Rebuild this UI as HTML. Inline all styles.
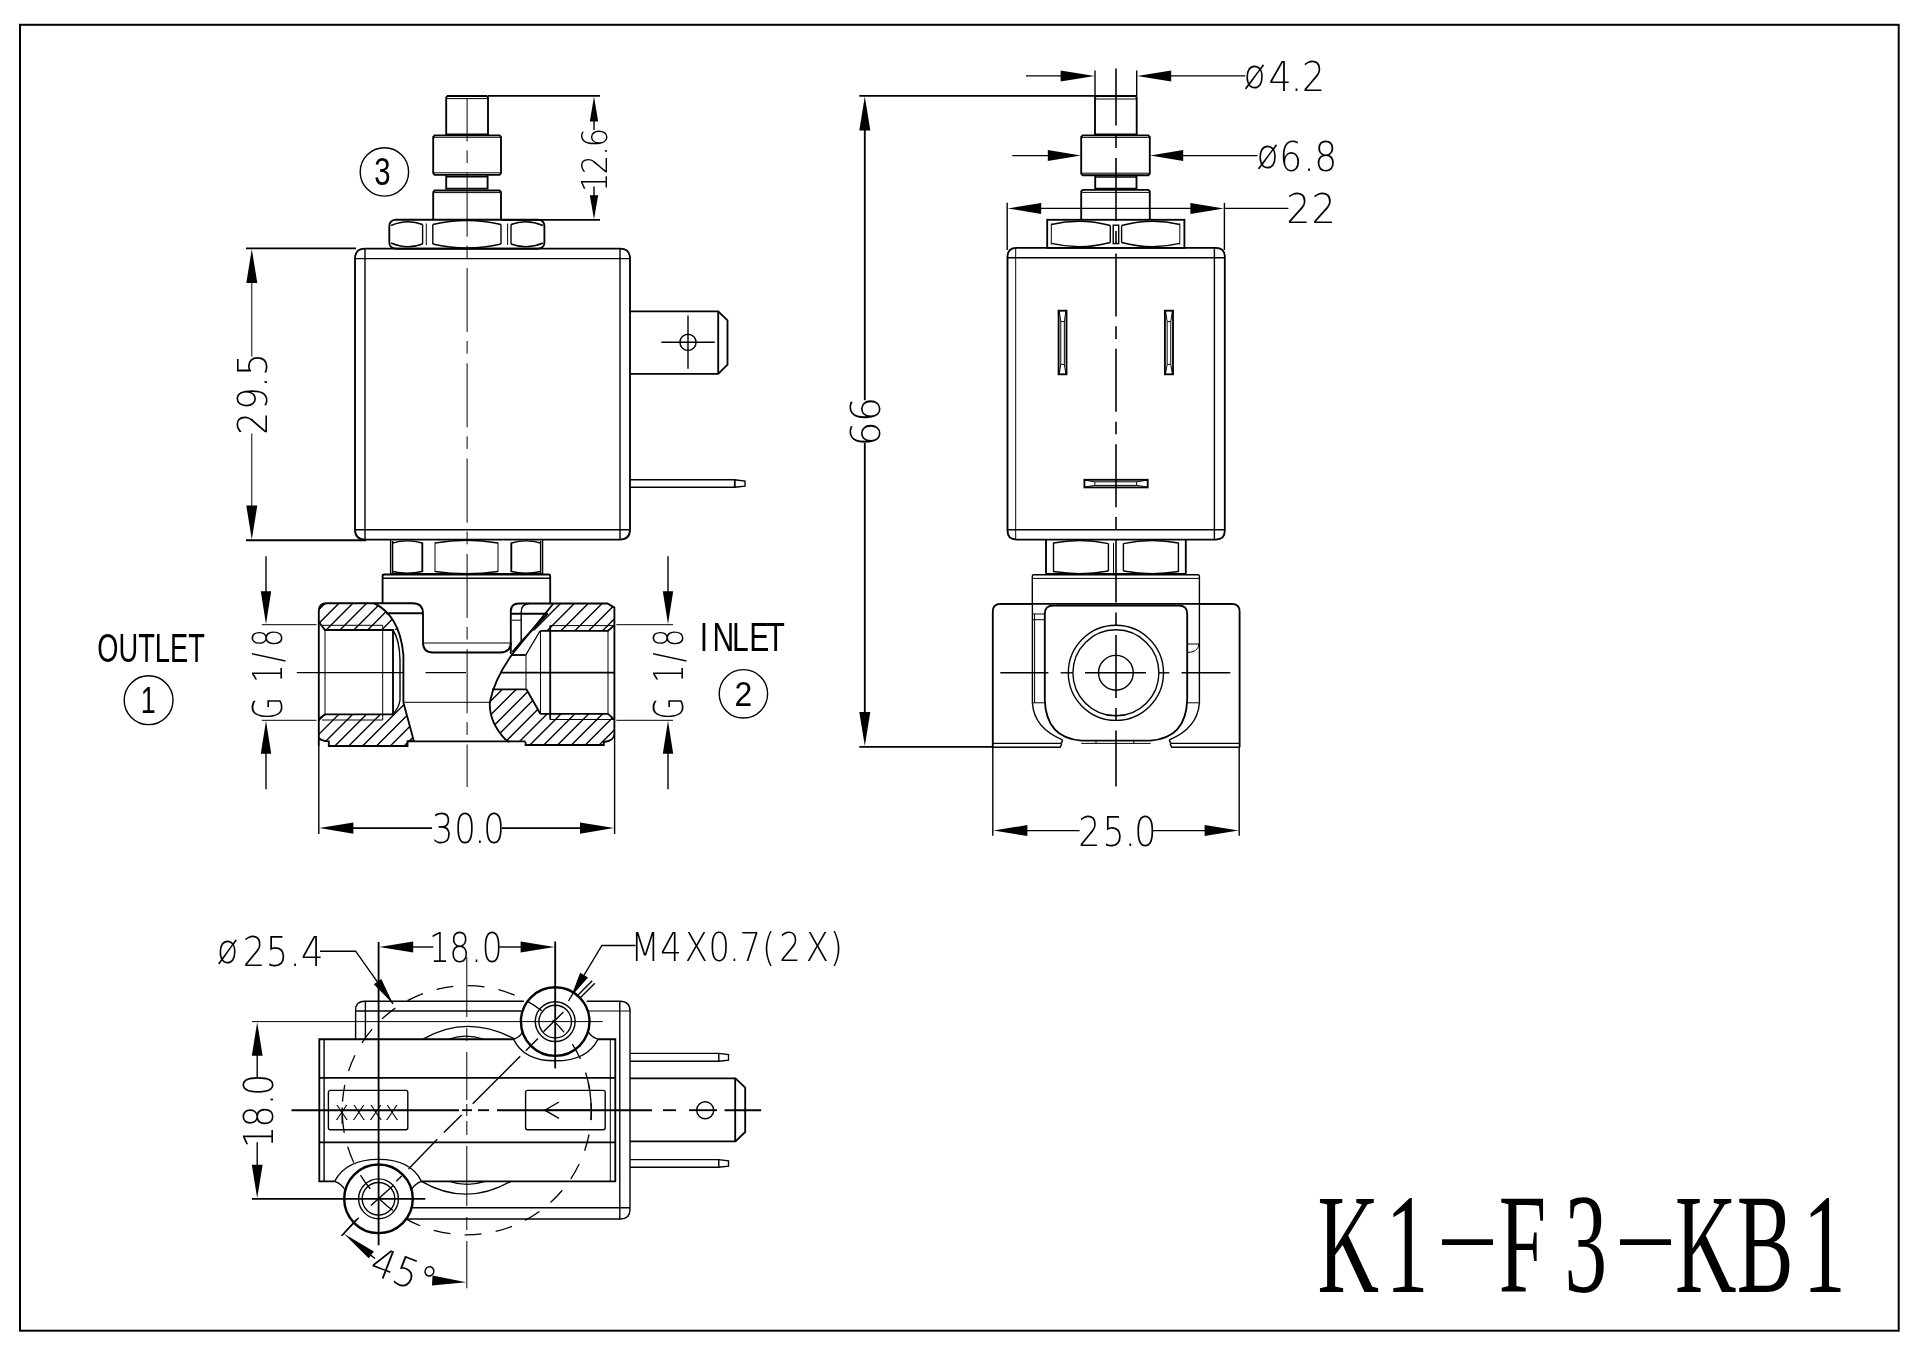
<!DOCTYPE html>
<html lang="en"><head><meta charset="utf-8"><title>K1-F3-KB1</title>
<style>
html,body{margin:0;padding:0;background:#fff}
svg{display:block;filter:grayscale(1)}
.dim{font-family:"DejaVu Sans Light","DejaVu Sans","Liberation Sans",sans-serif;font-weight:200;fill:#000;stroke:none}
.lbl{font-family:"Liberation Sans",sans-serif;fill:#000;stroke:none}
.ttl{font-family:"Liberation Serif",serif;fill:#000;stroke:none}
</style></head><body>
<svg width="1920" height="1356" viewBox="0 0 1920 1356" fill="none" stroke="#000" stroke-linecap="butt">
<rect x="0" y="0" width="1920" height="1356" fill="#fff" stroke="none"/>
<rect x="20" y="24.8" width="1878.7" height="1305.9" stroke-width="2"/>
<!-- FRONT VIEW -->
<path d="M446.2,135 V97.5 L447.5,96 H486.7 L488,97.5 V135" stroke-width="1.85"/>
<line x1="446.5" y1="98.6" x2="487.7" y2="98.6" stroke-width="1"/>
<path d="M434.6,135.3 H499.6 L501,136.8 V173.2 L499.6,174.8 H434.6 L433.2,173.2 V136.8 Z" stroke-width="1.85"/>
<line x1="446" y1="134.4" x2="488" y2="134.4" stroke-width="1.85"/>
<line x1="434" y1="137.3" x2="500.4" y2="137.3" stroke-width="1"/>
<line x1="434" y1="172.8" x2="500.4" y2="172.8" stroke-width="1"/>
<path d="M446.2,175 V189.6 M487.6,175 V189.6" stroke-width="1.85"/>
<line x1="446.2" y1="176.8" x2="487.6" y2="176.8" stroke-width="1.4"/>
<line x1="446.2" y1="188.6" x2="487.6" y2="188.6" stroke-width="1.85"/>
<path d="M433.2,219.5 V192 L434.6,190.5 H499.6 L501,192 V219.5" stroke-width="1.85"/>
<line x1="434" y1="192.6" x2="500.4" y2="192.6" stroke-width="1"/>
<path d="M396,219.7 H538 Q544.4,220.5 544.4,226 V242.5 Q544.4,248 538,248.7 H396 Q389.3,248 389.3,242.5 V226 Q389.3,220.5 396,219.7 Z" stroke-width="1.85"/>
<path d="M391,225.5 Q407,218.5 422.6,224.5 M432.8,224.5 Q466.8,216.5 501,224.5 M511,224.5 Q527,218.5 543,225.5" stroke-width="1.4"/>
<path d="M391,243 Q407,250 422.6,244 M432.8,244 Q466.8,252 501,244 M511,244 Q527,250 543,243" stroke-width="1.4"/>
<line x1="422.6" y1="224.5" x2="422.6" y2="244" stroke-width="1.4"/>
<line x1="432.8" y1="224.5" x2="432.8" y2="244" stroke-width="1.4"/>
<line x1="501" y1="224.5" x2="501" y2="244" stroke-width="1.4"/>
<line x1="511" y1="224.5" x2="511" y2="244" stroke-width="1.4"/>
<line x1="426.3" y1="223.5" x2="426.3" y2="245" stroke-width="1"/>
<line x1="507.6" y1="223.5" x2="507.6" y2="245" stroke-width="1"/>
<path d="M365,248.6 H620 Q630,248.6 630,258.6 V529.6 Q630,539.6 620,539.6 H365 Q355,539.6 355,529.6 V258.6 Q355,248.6 365,248.6 Z" stroke-width="1.85"/>
<line x1="355" y1="258.6" x2="630" y2="258.6" stroke-width="1.4"/>
<line x1="355" y1="529.7" x2="630" y2="529.7" stroke-width="1.4"/>
<line x1="365" y1="248.6" x2="365" y2="539.6" stroke-width="1.4"/>
<line x1="620" y1="248.6" x2="620" y2="539.6" stroke-width="1.4"/>
<path d="M630,311.3 H718.2 L727.5,320.3 V364.6 L718.2,373.8 H630" stroke-width="1.85"/>
<line x1="718.2" y1="311.3" x2="718.2" y2="373.8" stroke-width="1.85"/>
<circle cx="688" cy="342.3" r="8.1" stroke-width="1.4"/>
<line x1="661.3" y1="342.3" x2="714.8" y2="342.3" stroke-width="1.4"/>
<line x1="688" y1="315.6" x2="688" y2="368.8" stroke-width="1.4"/>
<path d="M630,479.8 H734.5 L745,481 V486.2 L734.5,487.2 H630" stroke-width="1.4"/>
<line x1="734.8" y1="479.8" x2="734.8" y2="487.2" stroke-width="1.85"/>
<path d="M390.6,539.6 V573.8 M392.6,541 V573 M542.6,539.6 V573.8 M540.6,541 V573" stroke-width="1.4"/>
<line x1="390.6" y1="573.8" x2="542.6" y2="573.8" stroke-width="1.85"/>
<line x1="422.3" y1="542.5" x2="422.3" y2="572" stroke-width="1.85"/>
<line x1="511.3" y1="542.5" x2="511.3" y2="572" stroke-width="1.85"/>
<line x1="435" y1="542.5" x2="435" y2="572" stroke-width="1"/>
<line x1="498" y1="542.5" x2="498" y2="572" stroke-width="1"/>
<path d="M392.6,543 Q407,538.8 422.3,543 M435,543 Q466.6,537.6 498,543 M511.3,543 Q526,538.8 540.6,543" stroke-width="1.4"/>
<path d="M392.6,571.5 Q407,575 422.3,571.5 M435,571.5 Q466.6,576 498,571.5 M511.3,571.5 Q526,575 540.6,571.5" stroke-width="1.4"/>
<path d="M382.6,603 V576 Q382.6,574.5 384.2,574.5 H548.6 Q550.2,574.5 550.2,576 V603.5" stroke-width="1.85"/>
<line x1="382.6" y1="578.2" x2="550.2" y2="578.2" stroke-width="1.4"/>
<path d="M318.8,746 V611 Q318.8,603.2 326.8,603.2 H412.5 Q423,603.2 423,613.5 V642.5 Q423,652.5 433,652.5 H500 Q510.8,652.5 510.8,642.5" stroke-width="1.85"/>
<line x1="386" y1="613.2" x2="423" y2="613.2" stroke-width="1.85"/>
<line x1="424" y1="643" x2="510" y2="643" stroke-width="1"/>
<path d="M373.8,603.2 Q386,609 393.5,621 Q401.5,634 403.4,655 V702.5" stroke-width="1.85"/>
<path d="M393,630 Q399.6,640 400,660 V700 Q399,708 392.5,714.4" stroke-width="1.4"/>
<path d="M318.8,622 L325,630 H393 V714.4 H325 L318.8,718.8" stroke-width="1.85"/>
<line x1="325" y1="630" x2="325" y2="714.4" stroke-width="1"/>
<line x1="382.7" y1="625.3" x2="382.7" y2="720" stroke-width="1"/>
<line x1="322" y1="625.3" x2="382.7" y2="625.3" stroke-width="1"/>
<line x1="322" y1="720" x2="382.7" y2="720" stroke-width="1"/>
<path d="M318.8,737.5 Q319.5,740.6 328.8,741.3 V746 H407.5 V741.3 L413.8,740.8 L403.4,702.5" stroke-width="1.85"/>
<line x1="407.5" y1="741.3" x2="525.6" y2="741.3" stroke-width="1.85"/>
<line x1="403.4" y1="702.3" x2="489.6" y2="702.3" stroke-width="1"/>
<path d="M510.8,654 V611.5 Q510.8,603.5 518.8,603.5 H607.5 L614.4,607.6 V734 Q614,741 603.8,742 V745 H525.6 V742" stroke-width="1.85"/>
<path d="M529.4,603.5 Q521.2,604 521.2,612 V641.5" stroke-width="1.4"/>
<line x1="510.8" y1="613.7" x2="547.8" y2="613.7" stroke-width="1.85"/>
<line x1="511.5" y1="620.2" x2="521.2" y2="620.2" stroke-width="1"/>
<path d="M553,604 L512,654.5 Q494,680 489.8,702.5 Q489,722 505.2,739.4 L509.4,742" stroke-width="1.85"/>
<path d="M547.8,613.7 L521.2,641.6 L512.4,652" stroke-width="1.85"/>
<path d="M540,631 L525.8,655" stroke-width="1.4"/>
<line x1="511.5" y1="655" x2="525.8" y2="655" stroke-width="1.85"/>
<line x1="526" y1="655" x2="526" y2="689" stroke-width="1"/>
<line x1="492" y1="689.3" x2="526.4" y2="689.3" stroke-width="1.85"/>
<line x1="526.4" y1="689.3" x2="540.3" y2="713.8" stroke-width="1.85"/>
<path d="M540.3,630.8 H608 L614.4,625.4 M540.3,713.8 H608 L614.4,719.6" stroke-width="1.85"/>
<line x1="540.5" y1="630.8" x2="540.5" y2="713.8" stroke-width="1"/>
<line x1="550.2" y1="625.6" x2="550.2" y2="719.5" stroke-width="1.85"/>
<line x1="550.2" y1="625.6" x2="614.4" y2="625.6" stroke-width="1"/>
<line x1="550.2" y1="719.5" x2="614.4" y2="719.5" stroke-width="1"/>
<line x1="608" y1="630.8" x2="608" y2="713.8" stroke-width="1"/>
<line x1="500" y1="672.6" x2="614.4" y2="672.6" stroke-width="1.85"/>
<clipPath id="hA"><path d="M326.8,603.2 H373.8 Q386,609 393.5,621 L397.6,630 H325 L318.8,622 V611 Q318.8,603.2 326.8,603.2 Z"/></clipPath>
<clipPath id="hB"><path d="M318.8,718.8 L325,714.4 H392.5 Q399,708 403.4,702.5 L413.8,740.8 L407.5,741.3 V746 H328.8 V741.3 Q319.5,740.6 318.8,737.5 Z"/></clipPath>
<clipPath id="hC"><path d="M553,604 L607.5,603.5 L614.4,607.6 V625.4 L608,630.8 H533 Z"/></clipPath>
<clipPath id="hD"><path d="M492,689.3 H526.4 L540.3,713.8 H608 L614.4,719.6 V734 Q614,741 603.8,742 V745 H525.6 V742 H509.4 L505.2,739.4 Q489,722 489.8,702.5 Z"/></clipPath>
<path clip-path="url(#hA)" d="M300.67,600 L265.67,635 M314.53,600 L279.53,635 M328.39,600 L293.39,635 M342.25,600 L307.25,635 M356.11,600 L321.11,635 M369.97,600 L334.97,635 M383.83,600 L348.83,635 M397.69,600 L362.69,635 M411.55,600 L376.55,635 M425.41,600 L390.41,635 M439.27,600 L404.27,635 M453.13,600 L418.13,635 M466.99,600 L431.99,635 M480.85,600 L445.85,635 M494.71,600 L459.71,635 M508.57,600 L473.57,635 M522.43,600 L487.43,635 M536.29,600 L501.29,635 M550.15,600 L515.15,635 M564.01,600 L529.01,635 M577.87,600 L542.87,635 M591.73,600 L556.73,635 M605.59,600 L570.59,635 M619.45,600 L584.45,635 M633.31,600 L598.31,635 M647.17,600 L612.17,635 M661.03,600 L626.03,635 M674.89,600 L639.89,635 M688.75,600 L653.75,635 M702.61,600 L667.61,635 M716.47,600 L681.47,635 M730.33,600 L695.33,635 M744.19,600 L709.19,635 M758.05,600 L723.05,635 M771.91,600 L736.91,635 M785.77,600 L750.77,635 M799.63,600 L764.63,635 M813.49,600 L778.49,635 M827.35,600 L792.35,635 M841.21,600 L806.21,635 M855.07,600 L820.07,635 M868.93,600 L833.93,635 M882.79,600 L847.79,635" stroke-width="1.4"/>
<path clip-path="url(#hB)" d="M202.67,698 L150.67,750 M216.53,698 L164.53,750 M230.39,698 L178.39,750 M244.25,698 L192.25,750 M258.11,698 L206.11,750 M271.97,698 L219.97,750 M285.83,698 L233.83,750 M299.69,698 L247.69,750 M313.55,698 L261.55,750 M327.41,698 L275.41,750 M341.27,698 L289.27,750 M355.13,698 L303.13,750 M368.99,698 L316.99,750 M382.85,698 L330.85,750 M396.71,698 L344.71,750 M410.57,698 L358.57,750 M424.43,698 L372.43,750 M438.29,698 L386.29,750 M452.15,698 L400.15,750 M466.01,698 L414.01,750 M479.87,698 L427.87,750 M493.73,698 L441.73,750 M507.59,698 L455.59,750 M521.45,698 L469.45,750 M535.31,698 L483.31,750 M549.17,698 L497.17,750 M563.03,698 L511.03,750 M576.89,698 L524.89,750 M590.75,698 L538.75,750 M604.61,698 L552.61,750 M618.47,698 L566.47,750 M632.33,698 L580.33,750 M646.19,698 L594.19,750 M660.05,698 L608.05,750 M673.91,698 L621.91,750 M687.77,698 L635.77,750 M701.63,698 L649.63,750 M715.49,698 L663.49,750 M729.35,698 L677.35,750 M743.21,698 L691.21,750 M757.07,698 L705.07,750 M770.93,698 L718.93,750 M784.79,698 L732.79,750" stroke-width="1.4"/>
<path clip-path="url(#hC)" d="M300.67,600 L265.67,635 M314.53,600 L279.53,635 M328.39,600 L293.39,635 M342.25,600 L307.25,635 M356.11,600 L321.11,635 M369.97,600 L334.97,635 M383.83,600 L348.83,635 M397.69,600 L362.69,635 M411.55,600 L376.55,635 M425.41,600 L390.41,635 M439.27,600 L404.27,635 M453.13,600 L418.13,635 M466.99,600 L431.99,635 M480.85,600 L445.85,635 M494.71,600 L459.71,635 M508.57,600 L473.57,635 M522.43,600 L487.43,635 M536.29,600 L501.29,635 M550.15,600 L515.15,635 M564.01,600 L529.01,635 M577.87,600 L542.87,635 M591.73,600 L556.73,635 M605.59,600 L570.59,635 M619.45,600 L584.45,635 M633.31,600 L598.31,635 M647.17,600 L612.17,635 M661.03,600 L626.03,635 M674.89,600 L639.89,635 M688.75,600 L653.75,635 M702.61,600 L667.61,635 M716.47,600 L681.47,635 M730.33,600 L695.33,635 M744.19,600 L709.19,635 M758.05,600 L723.05,635 M771.91,600 L736.91,635 M785.77,600 L750.77,635 M799.63,600 L764.63,635 M813.49,600 L778.49,635 M827.35,600 L792.35,635 M841.21,600 L806.21,635 M855.07,600 L820.07,635 M868.93,600 L833.93,635 M882.79,600 L847.79,635" stroke-width="1.4"/>
<path clip-path="url(#hD)" d="M215.67,685 L150.67,750 M229.53,685 L164.53,750 M243.39,685 L178.39,750 M257.25,685 L192.25,750 M271.11,685 L206.11,750 M284.97,685 L219.97,750 M298.83,685 L233.83,750 M312.69,685 L247.69,750 M326.55,685 L261.55,750 M340.41,685 L275.41,750 M354.27,685 L289.27,750 M368.13,685 L303.13,750 M381.99,685 L316.99,750 M395.85,685 L330.85,750 M409.71,685 L344.71,750 M423.57,685 L358.57,750 M437.43,685 L372.43,750 M451.29,685 L386.29,750 M465.15,685 L400.15,750 M479.01,685 L414.01,750 M492.87,685 L427.87,750 M506.73,685 L441.73,750 M520.59,685 L455.59,750 M534.45,685 L469.45,750 M548.31,685 L483.31,750 M562.17,685 L497.17,750 M576.03,685 L511.03,750 M589.89,685 L524.89,750 M603.75,685 L538.75,750 M617.61,685 L552.61,750 M631.47,685 L566.47,750 M645.33,685 L580.33,750 M659.19,685 L594.19,750 M673.05,685 L608.05,750 M686.91,685 L621.91,750 M700.77,685 L635.77,750 M714.63,685 L649.63,750 M728.49,685 L663.49,750 M742.35,685 L677.35,750 M756.21,685 L691.21,750 M770.07,685 L705.07,750 M783.93,685 L718.93,750 M797.79,685 L732.79,750" stroke-width="1.4"/>
<line x1="296.8" y1="672.6" x2="403.4" y2="672.6" stroke-width="1.4"/>
<line x1="425.6" y1="672.6" x2="466" y2="672.6" stroke-width="1.4"/>
<line x1="467.1" y1="98" x2="467.1" y2="141.4" stroke-width="1"/>
<line x1="467.1" y1="150.4" x2="467.1" y2="163.1" stroke-width="1"/>
<line x1="467.1" y1="172.7" x2="467.1" y2="236.7" stroke-width="1"/>
<line x1="467.1" y1="245.7" x2="467.1" y2="258.4" stroke-width="1"/>
<line x1="467.1" y1="268" x2="467.1" y2="332" stroke-width="1"/>
<line x1="467.1" y1="341" x2="467.1" y2="353.7" stroke-width="1"/>
<line x1="467.1" y1="363.3" x2="467.1" y2="427.3" stroke-width="1"/>
<line x1="467.1" y1="436.3" x2="467.1" y2="449" stroke-width="1"/>
<line x1="467.1" y1="458.6" x2="467.1" y2="522.6" stroke-width="1"/>
<line x1="467.1" y1="531.6" x2="467.1" y2="544.3" stroke-width="1"/>
<line x1="467.1" y1="553.9" x2="467.1" y2="617.9" stroke-width="1"/>
<line x1="467.1" y1="626.9" x2="467.1" y2="639.6" stroke-width="1"/>
<line x1="467.1" y1="649.2" x2="467.1" y2="713.2" stroke-width="1"/>
<line x1="467.1" y1="722.2" x2="467.1" y2="734.9" stroke-width="1"/>
<line x1="467.1" y1="744.5" x2="467.1" y2="787" stroke-width="1"/>
<line x1="488" y1="95.8" x2="600" y2="95.8" stroke-width="1.85"/>
<line x1="501" y1="219.8" x2="600" y2="219.8" stroke-width="1.85"/>
<line x1="594" y1="120" x2="594" y2="130" stroke-width="1.4"/>
<line x1="594" y1="186.5" x2="594" y2="197" stroke-width="1.4"/>
<polygon points="594,96.4 598.2,121.4 589.8,121.4" fill="#000" stroke="none"/>
<polygon points="594,219.2 589.8,195.2 598.2,195.2" fill="#000" stroke="none"/>
<text class="dim" transform="translate(606.8 186.6) rotate(-90) scale(0.88 1)" font-size="34.63" x="-6.24 14.06 34.96 44.71">12.6</text>
<line x1="246" y1="248.4" x2="356" y2="248.4" stroke-width="1.85"/>
<line x1="246" y1="540.2" x2="366" y2="540.2" stroke-width="1.85"/>
<line x1="251.8" y1="282" x2="251.8" y2="356.5" stroke-width="1"/>
<line x1="251.8" y1="433.5" x2="251.8" y2="507" stroke-width="1"/>
<polygon points="251.8,249 257.3,283 246.3,283" fill="#000" stroke="none"/>
<polygon points="251.8,539.6 246.3,505.6 257.3,505.6" fill="#000" stroke="none"/>
<text class="dim" transform="translate(267 432.4) rotate(-90) scale(0.88 1)" font-size="41.07" x="-2.55 25.47 50.87 64.13">29.5</text>
<line x1="261.8" y1="624.7" x2="316.5" y2="624.7" stroke-width="1"/>
<line x1="261.8" y1="720.3" x2="316.5" y2="720.3" stroke-width="1"/>
<line x1="266" y1="556.3" x2="266" y2="592" stroke-width="1.4"/>
<line x1="266" y1="753" x2="266" y2="789.3" stroke-width="1.4"/>
<polygon points="266,624.2 260.8,591.2 271.2,591.2" fill="#000" stroke="none"/>
<polygon points="266,720.8 271.2,753.8 260.8,753.8" fill="#000" stroke="none"/>
<text class="dim" transform="translate(281.6 715.7) rotate(-90) scale(0.7 1)" font-size="40.94" x="-5.56 28.57 47.07 76.5 98.28">G 1/8</text>
<line x1="616.3" y1="624.7" x2="673" y2="624.7" stroke-width="1"/>
<line x1="616.3" y1="720.3" x2="673" y2="720.3" stroke-width="1"/>
<line x1="668" y1="556.3" x2="668" y2="592" stroke-width="1.4"/>
<line x1="668" y1="753" x2="668" y2="789.3" stroke-width="1.4"/>
<polygon points="668,624.2 662.8,591.2 673.2,591.2" fill="#000" stroke="none"/>
<polygon points="668,720.8 673.2,753.8 662.8,753.8" fill="#000" stroke="none"/>
<text class="dim" transform="translate(683.4 715.7) rotate(-90) scale(0.7 1)" font-size="40.94" x="-5.56 28.57 47.07 76.5 98.28">G 1/8</text>
<line x1="318.8" y1="746" x2="318.8" y2="834" stroke-width="1.4"/>
<line x1="614.6" y1="734" x2="614.6" y2="834" stroke-width="1.4"/>
<line x1="352" y1="828.1" x2="432" y2="828.1" stroke-width="1.85"/>
<line x1="502" y1="828.1" x2="581" y2="828.1" stroke-width="1.85"/>
<polygon points="319.4,828.1 353.4,822.5 353.4,833.7" fill="#000" stroke="none"/>
<polygon points="614,828.1 580,833.7 580,822.5" fill="#000" stroke="none"/>
<text class="dim" transform="translate(432.8 843.2) scale(0.85 1)" font-size="40" x="-1.32 25.23 48.95 59.46">30.0</text>
<text class="lbl" transform="translate(97.3 661.6) scale(0.68 1)" font-size="40.11">OUTLET</text>
<circle cx="148.6" cy="700.2" r="24.4" stroke-width="1.4"/>
<text class="lbl" transform="translate(140.75 712.6) scale(0.74 1)" font-size="36.34">1</text>
<text class="lbl" transform="translate(702.6 651.2) scale(0.74 1)" font-size="40.7" x="-3.76 13.52 39.62 63.13 86.35">INLET</text>
<circle cx="743.4" cy="693.8" r="24.2" stroke-width="1.4"/>
<text class="lbl" transform="translate(734.6 706) scale(0.89 1)" font-size="35.82">2</text>
<circle cx="384.4" cy="171.9" r="24.2" stroke-width="1.4"/>
<text class="lbl" transform="translate(374.18 185.2) scale(0.77 1)" font-size="38.14">3</text>
<!-- SIDE VIEW -->
<path d="M1095,135 V97.4 L1096.3,96 H1135.4 L1136.7,97.4 V135" stroke-width="1.85"/>
<line x1="1095.4" y1="99" x2="1136.3" y2="99" stroke-width="1"/>
<line x1="1095" y1="70.6" x2="1095" y2="96" stroke-width="1.4"/>
<line x1="1136.7" y1="70.6" x2="1136.7" y2="96" stroke-width="1.4"/>
<path d="M1082.7,135.3 H1148.3 L1149.8,136.8 V173.6 L1148.3,175.2 H1082.7 L1081.2,173.6 V136.8 Z" stroke-width="1.85"/>
<line x1="1095" y1="134.4" x2="1136.7" y2="134.4" stroke-width="1.85"/>
<line x1="1082" y1="137.4" x2="1149" y2="137.4" stroke-width="1"/>
<line x1="1082" y1="173.2" x2="1149" y2="173.2" stroke-width="1"/>
<path d="M1095.2,175.2 V189.7 M1136.5,175.2 V189.7" stroke-width="1.85"/>
<line x1="1095.2" y1="177" x2="1136.5" y2="177" stroke-width="1.4"/>
<line x1="1095.2" y1="188.6" x2="1136.5" y2="188.6" stroke-width="1.85"/>
<path d="M1081.2,219.5 V191.3 L1082.7,189.8 H1148.3 L1149.8,191.3 V219.5" stroke-width="1.85"/>
<line x1="1082" y1="192.4" x2="1149" y2="192.4" stroke-width="1"/>
<rect x="1047.2" y="219.8" width="137.2" height="28.1" stroke-width="1.85"/>
<line x1="1051.3" y1="223.5" x2="1051.3" y2="244.5" stroke-width="1"/>
<line x1="1179.8" y1="223.5" x2="1179.8" y2="244.5" stroke-width="1"/>
<line x1="1110.3" y1="225.5" x2="1110.3" y2="242.5" stroke-width="1.4"/>
<line x1="1121.6" y1="225.5" x2="1121.6" y2="242.5" stroke-width="1.4"/>
<rect x="1113.2" y="225.2" width="5.5" height="18.4" stroke-width="1.4"/>
<path d="M1051.3,224.5 Q1081,217.5 1110.3,225.5 M1121.6,225.5 Q1151,217.5 1179.8,224.5" stroke-width="1.4"/>
<path d="M1051.3,243.4 Q1081,250.4 1110.3,242.5 M1121.6,242.5 Q1151,250.4 1179.8,243.4" stroke-width="1.4"/>
<path d="M1016.5,247.9 H1215.8 Q1224.8,247.9 1224.8,256.9 V530.6 Q1224.8,539.6 1215.8,539.6 H1016.5 Q1007.5,539.6 1007.5,530.6 V256.9 Q1007.5,247.9 1016.5,247.9 Z" stroke-width="1.85"/>
<line x1="1007.5" y1="257.8" x2="1224.8" y2="257.8" stroke-width="1.4"/>
<line x1="1007.5" y1="529.8" x2="1224.8" y2="529.8" stroke-width="1.4"/>
<line x1="1015.7" y1="247.9" x2="1015.7" y2="539.6" stroke-width="1"/>
<line x1="1214.4" y1="247.9" x2="1214.4" y2="539.6" stroke-width="1.4"/>
<rect x="1058.6" y="310.7" width="7.9" height="63.6" stroke-width="1.85"/>
<path d="M1060.75,321.6 V364.4 M1064.35,321.6 V364.4" stroke-width="1"/>
<path d="M1059.2,311 L1060.75,321.6 H1064.35 L1065.9,311 M1059.2,374 L1060.75,364.4 H1064.35 L1065.9,374" stroke-width="1"/>
<rect x="1164.9" y="310.7" width="8.1" height="63.6" stroke-width="1.85"/>
<path d="M1167.15,321.6 V364.4 M1170.75,321.6 V364.4" stroke-width="1"/>
<path d="M1165.5,311 L1167.15,321.6 H1170.75 L1172.4,311 M1165.5,374 L1167.15,364.4 H1170.75 L1172.4,374" stroke-width="1"/>
<rect x="1084.4" y="479.8" width="63.3" height="7.6" stroke-width="1.85"/>
<path d="M1094.8,481.8 H1136.6 M1094.8,485.4 H1136.6" stroke-width="1"/>
<path d="M1084.8,480.2 L1094.8,481.8 V485.4 L1084.8,487 M1147.3,480.2 L1136.6,481.8 V485.4 L1147.3,487" stroke-width="1"/>
<path d="M1046,539.6 V573.8 M1185.8,539.6 V573.8" stroke-width="1.85"/>
<line x1="1046" y1="573.9" x2="1185.8" y2="573.9" stroke-width="1.85"/>
<line x1="1053.5" y1="542.5" x2="1053.5" y2="572" stroke-width="1.4"/>
<line x1="1178.4" y1="542.5" x2="1178.4" y2="572" stroke-width="1.4"/>
<line x1="1108.4" y1="543.5" x2="1108.4" y2="571" stroke-width="1.4"/>
<line x1="1123.4" y1="543.5" x2="1123.4" y2="571" stroke-width="1.4"/>
<line x1="1113.5" y1="543" x2="1113.5" y2="573" stroke-width="1"/>
<path d="M1053.5,543 Q1081,537.6 1108.4,543.6 M1123.4,543.6 Q1151,537.6 1178.4,543" stroke-width="1.4"/>
<path d="M1053.5,571.5 Q1081,576 1108.4,571 M1123.4,571 Q1151,576 1178.4,571.5" stroke-width="1.4"/>
<path d="M1032.3,605 V576.2 Q1032.3,574.8 1033.8,574.8 H1197.8 Q1199.4,574.8 1199.4,576.2 V605" stroke-width="1.4"/>
<line x1="1032.3" y1="578.4" x2="1199.4" y2="578.4" stroke-width="1"/>
<path d="M1032.4,605 V703 Q1034,728 1062.5,739.8" stroke-width="1.4"/>
<path d="M1199.4,605 V703 Q1197.6,728 1169.4,739.8" stroke-width="1.4"/>
<path d="M992.8,747.2 V611.5 Q992.8,603.8 1000.6,603.8 H1032.3 M1199.4,603.8 H1231.8 Q1239.6,603.8 1239.6,611.5 V747.2" stroke-width="1.85"/>
<path d="M992.8,743.4 H1060.5 Q1062,743 1062.4,739.8 M1239.6,743.4 H1171.5 Q1170,743 1169.5,739.8" stroke-width="1.4"/>
<path d="M992.8,747.2 H1060.2 L1061.8,743.4 M1239.6,747.2 H1171.6 L1170,743.4" stroke-width="1.4"/>
<path d="M1053,605.6 H1179 Q1187.2,605.6 1187.2,614 V700 Q1186,738 1150.5,740.6 H1081.5 Q1046,738 1044.8,700 V614 Q1044.8,605.6 1053,605.6 Z" stroke-width="1.85"/>
<line x1="1000" y1="603.8" x2="1232" y2="603.8" stroke-width="1.85"/>
<line x1="1033" y1="614" x2="1044.8" y2="614" stroke-width="1"/>
<line x1="1033" y1="619.7" x2="1044.8" y2="619.7" stroke-width="1"/>
<line x1="1033" y1="702.8" x2="1044.8" y2="702.8" stroke-width="1"/>
<line x1="1187.2" y1="702.8" x2="1199" y2="702.8" stroke-width="1"/>
<path d="M1187.2,644 H1199 Q1198,652.5 1187.2,652.5" stroke-width="1"/>
<line x1="1034.6" y1="614" x2="1034.6" y2="702.8" stroke-width="1"/>
<path d="M1081.3,743.4 H1150.6 M1096,741 V743.4 M1133.8,741 V743.4" stroke-width="1"/>
<circle cx="1115.9" cy="672.8" r="47.6" stroke-width="1.4"/>
<circle cx="1115.9" cy="672.8" r="43" stroke-width="1.4"/>
<circle cx="1115.9" cy="672.8" r="17.4" stroke-width="1.4"/>
<line x1="1000.3" y1="672.8" x2="1048.4" y2="672.8" stroke-width="1.4"/>
<line x1="1060.6" y1="672.8" x2="1072.8" y2="672.8" stroke-width="1.4"/>
<line x1="1085" y1="672.8" x2="1146" y2="672.8" stroke-width="1.4"/>
<line x1="1159" y1="672.8" x2="1169.4" y2="672.8" stroke-width="1.4"/>
<line x1="1181.6" y1="672.8" x2="1230.3" y2="672.8" stroke-width="1.4"/>
<line x1="1116" y1="68.4" x2="1116" y2="125.6" stroke-width="1.6"/>
<line x1="1116" y1="135.5" x2="1116" y2="148.1" stroke-width="1.6"/>
<line x1="1116" y1="158" x2="1116" y2="221" stroke-width="1.6"/>
<line x1="1116" y1="230.9" x2="1116" y2="243.5" stroke-width="1.6"/>
<line x1="1116" y1="253.4" x2="1116" y2="316.4" stroke-width="1.6"/>
<line x1="1116" y1="326.3" x2="1116" y2="338.9" stroke-width="1.6"/>
<line x1="1116" y1="348.8" x2="1116" y2="411.8" stroke-width="1.6"/>
<line x1="1116" y1="421.7" x2="1116" y2="434.3" stroke-width="1.6"/>
<line x1="1116" y1="444.2" x2="1116" y2="507.2" stroke-width="1.6"/>
<line x1="1116" y1="517.1" x2="1116" y2="529.7" stroke-width="1.6"/>
<line x1="1116" y1="539.6" x2="1116" y2="602.6" stroke-width="1.6"/>
<line x1="1116" y1="612.5" x2="1116" y2="625.1" stroke-width="1.6"/>
<line x1="1116" y1="635" x2="1116" y2="698" stroke-width="1.6"/>
<line x1="1116" y1="707.9" x2="1116" y2="720.5" stroke-width="1.6"/>
<line x1="1116" y1="730.4" x2="1116" y2="786.6" stroke-width="1.6"/>
<line x1="1026" y1="75.9" x2="1061" y2="75.9" stroke-width="1.4"/>
<line x1="1171" y1="75.9" x2="1245.3" y2="75.9" stroke-width="1.4"/>
<polygon points="1094.6,75.9 1060.6,81.4 1060.6,70.4" fill="#000" stroke="none"/>
<polygon points="1137.2,75.9 1171.2,70.4 1171.2,81.4" fill="#000" stroke="none"/>
<text class="dim" transform="translate(1245 91) scale(0.9 1)" font-size="40.27" x="-1.58 26.15 50.72 63.36" y="-3 0 0 0">ø4.2</text>
<line x1="1012.3" y1="155.6" x2="1049" y2="155.6" stroke-width="1.4"/>
<line x1="1183" y1="155.6" x2="1257.5" y2="155.6" stroke-width="1.4"/>
<polygon points="1080.8,155.6 1047.8,161.1 1047.8,150.1" fill="#000" stroke="none"/>
<polygon points="1150.2,155.6 1183.2,150.1 1183.2,161.1" fill="#000" stroke="none"/>
<text class="dim" transform="translate(1258 170.6) scale(0.9 1)" font-size="40.27" x="-1.69 23.65 50.28 62.64" y="-3 0 0 0">ø6.8</text>
<line x1="1007.2" y1="202.8" x2="1007.2" y2="250" stroke-width="1.4"/>
<line x1="1224.4" y1="202.8" x2="1224.4" y2="250" stroke-width="1.4"/>
<line x1="1040" y1="208.4" x2="1192" y2="208.4" stroke-width="1.4"/>
<line x1="1224.4" y1="208.4" x2="1288.4" y2="208.4" stroke-width="1.4"/>
<polygon points="1007.7,208.4 1041.2,202.9 1041.2,213.9" fill="#000" stroke="none"/>
<polygon points="1223.9,208.4 1190.4,213.9 1190.4,202.9" fill="#000" stroke="none"/>
<text class="dim" transform="translate(1288.4 223.4) scale(0.93 1)" font-size="41.07" x="-2.43 24.98">22</text>
<line x1="859.3" y1="95.8" x2="1096" y2="95.8" stroke-width="1.85"/>
<line x1="859.3" y1="746.8" x2="993" y2="746.8" stroke-width="1.85"/>
<line x1="864.8" y1="129" x2="864.8" y2="400.3" stroke-width="1.85"/>
<line x1="864.8" y1="443" x2="864.8" y2="713" stroke-width="1.85"/>
<polygon points="864.8,96.6 870.3,130.6 859.3,130.6" fill="#000" stroke="none"/>
<polygon points="864.8,746 859.3,712 870.3,712" fill="#000" stroke="none"/>
<text class="dim" transform="translate(879.5 443) rotate(-90) scale(0.95 1)" font-size="41.61" x="-3.82 22.23">66</text>
<line x1="992.8" y1="747.2" x2="992.8" y2="835.8" stroke-width="1.4"/>
<line x1="1239.2" y1="747.2" x2="1239.2" y2="835.8" stroke-width="1.4"/>
<line x1="1026" y1="830.6" x2="1079.6" y2="830.6" stroke-width="1.4"/>
<line x1="1152.6" y1="830.6" x2="1205.5" y2="830.6" stroke-width="1.4"/>
<polygon points="993.4,830.6 1027.4,825.1 1027.4,836.1" fill="#000" stroke="none"/>
<polygon points="1238.6,830.6 1204.6,836.1 1204.6,825.1" fill="#000" stroke="none"/>
<text class="dim" transform="translate(1079.8 845.8) scale(0.86 1)" font-size="40.54" x="-1.81 26.43 52.17 63.22">25.0</text>
<!-- TOP VIEW -->
<path d="M355.6,1039 V1010 Q355.6,1001.2 364.6,1001.2 H524 M586.6,1001.2 H620 Q630,1001.2 630,1011 V1209.5 Q630,1219 620.5,1219 H405" stroke-width="1.4"/>
<line x1="365.4" y1="1001.2" x2="365.4" y2="1039" stroke-width="1.4"/>
<line x1="355.6" y1="1011" x2="521.5" y2="1011" stroke-width="1.4"/>
<line x1="588.5" y1="1011" x2="630" y2="1011" stroke-width="1"/>
<line x1="619.8" y1="1001.2" x2="619.8" y2="1219" stroke-width="1.4"/>
<line x1="412" y1="1207.8" x2="630" y2="1207.8" stroke-width="1.4"/>
<path d="M513.6,1039.2 H319.3 V1181.3 H334.7 M421.4,1181.3 H615.3 V1039.2 H598" stroke-width="1.85"/>
<line x1="324.1" y1="1039.2" x2="324.1" y2="1181.3" stroke-width="1.4"/>
<line x1="610.3" y1="1039.2" x2="610.3" y2="1181.3" stroke-width="1"/>
<line x1="319.3" y1="1077.8" x2="615.3" y2="1077.8" stroke-width="1.85"/>
<line x1="319.3" y1="1142.3" x2="615.3" y2="1142.3" stroke-width="1.85"/>
<rect x="328.4" y="1090.4" width="79.4" height="39.4" stroke-width="1.4" rx="2"/>
<rect x="525.6" y="1090.4" width="79.6" height="39.4" stroke-width="1.4" rx="2"/>
<text class="dim" transform="translate(336 1119.7) scale(0.94 1)" font-size="26.33" x="-1.51 16.57 34.5 52">xxxx</text>
<line x1="342.2" y1="1107.5" x2="342.2" y2="1123.8" stroke-width="1.4"/>
<path d="M544.8,1110.2 H591.4 M559,1102 L544.8,1110.2 L559,1118.4" stroke-width="1.4"/>
<path d="M588.3,1082.5 Q592.2,1101 590.9,1120" stroke-width="1.3"/>
<path d="M630,1053.4 H718.5 L728.5,1054.6 V1060.2 L718.5,1061.3 H630" stroke-width="1.4"/>
<line x1="718.8" y1="1053.4" x2="718.8" y2="1061.3" stroke-width="1.4"/>
<path d="M630,1159.6 H718.5 L728.5,1160.8 V1166.2 L718.5,1167.3 H630" stroke-width="1.4"/>
<line x1="718.8" y1="1159.6" x2="718.8" y2="1167.3" stroke-width="1.4"/>
<path d="M630,1078.3 H735.5 L745.2,1087.6 V1132 L735.5,1141.4 H630" stroke-width="1.85"/>
<line x1="735.2" y1="1078.3" x2="735.2" y2="1141.4" stroke-width="1.85"/>
<circle cx="705.2" cy="1110.2" r="8.5" stroke-width="1.4"/>
<path d="M423,1039.2 Q467,1013.5 515,1039.2" stroke-width="1.4"/>
<path d="M449,1039.2 Q466,1033 483,1039.2" stroke-width="1.4"/>
<path d="M421.4,1181.3 Q466,1207 510.8,1181.3" stroke-width="1.4"/>
<path d="M449.5,1181.3 Q467,1187.4 485,1181.3" stroke-width="1.4"/>
<circle cx="555.2" cy="1021.6" r="34.3" stroke-width="2.4"/>
<circle cx="555.2" cy="1021.6" r="19.9" stroke-width="1.4"/>
<circle cx="555.2" cy="1021.6" r="16.3" stroke-width="1.4"/>
<circle cx="378.5" cy="1198.8" r="34.3" stroke-width="2.4"/>
<circle cx="378.5" cy="1198.8" r="19.9" stroke-width="1.4"/>
<circle cx="378.5" cy="1198.8" r="16.3" stroke-width="1.4"/>
<path d="M513.6,1039.2 Q524,1061 555.3,1060.8 Q587,1061 598,1039.2" stroke-width="1.4"/>
<path d="M513.6,1039.2 Q520,1037 522.5,1032 M598,1039.2 Q591,1037 588.6,1032" stroke-width="1.4"/>
<path d="M334.7,1181.3 Q346,1159.4 378.5,1159.4 Q411,1159.4 421.4,1181.3" stroke-width="1.4"/>
<path d="M334.7,1181.3 Q342,1184 345,1190 M421.4,1181.3 Q414.5,1184 411.8,1189" stroke-width="1.4"/>
<line x1="252" y1="1021.6" x2="602.7" y2="1021.6" stroke-width="1"/>
<line x1="555.2" y1="941.5" x2="555.2" y2="1068.4" stroke-width="1.85"/>
<line x1="251.9" y1="1198.8" x2="425.3" y2="1198.8" stroke-width="1.85"/>
<line x1="378.6" y1="941.9" x2="378.6" y2="1245.3" stroke-width="1.85"/>
<circle cx="466.8" cy="1110.2" r="124.6" stroke-width="1.3" stroke-dasharray="17 14.3" stroke-dashoffset="7"/>
<path d="M594.8,983.3 L580,998 M592.2,980.8 L577.6,995.6" stroke-width="1.4"/>
<line x1="563.4" y1="1012" x2="543.5" y2="1031.8" stroke-width="1.4"/>
<line x1="537.9" y1="1038.5" x2="525.8" y2="1050.7" stroke-width="1.4"/>
<line x1="520.2" y1="1056.2" x2="472.7" y2="1103.8" stroke-width="1.4"/>
<line x1="461.6" y1="1114.9" x2="443.9" y2="1132.6" stroke-width="1.4"/>
<line x1="437.3" y1="1139.2" x2="408.5" y2="1169" stroke-width="1.4"/>
<line x1="401.9" y1="1175.7" x2="396.3" y2="1181.2" stroke-width="1.4"/>
<line x1="393" y1="1185.7" x2="370.9" y2="1205.6" stroke-width="1.4"/>
<line x1="358.7" y1="1217.7" x2="342.1" y2="1235.4" stroke-width="1.4"/>
<line x1="291.5" y1="1110.2" x2="459" y2="1110.2" stroke-width="1.85"/>
<line x1="478" y1="1110.2" x2="489" y2="1110.2" stroke-width="1.85"/>
<line x1="497" y1="1110.2" x2="652" y2="1110.2" stroke-width="1.85"/>
<line x1="663" y1="1110.2" x2="676" y2="1110.2" stroke-width="1.85"/>
<line x1="689" y1="1110.2" x2="717" y2="1110.2" stroke-width="1.85"/>
<line x1="724.6" y1="1110.2" x2="761.2" y2="1110.2" stroke-width="1.85"/>
<line x1="466.8" y1="957" x2="466.8" y2="1017" stroke-width="1"/>
<line x1="466.8" y1="1028" x2="466.8" y2="1041" stroke-width="1"/>
<line x1="466.8" y1="1052" x2="466.8" y2="1100" stroke-width="1"/>
<line x1="466.8" y1="1121" x2="466.8" y2="1135" stroke-width="1"/>
<line x1="466.8" y1="1146" x2="466.8" y2="1206" stroke-width="1"/>
<line x1="466.8" y1="1217" x2="466.8" y2="1230" stroke-width="1"/>
<line x1="466.8" y1="1241" x2="466.8" y2="1288.3" stroke-width="1"/>
<line x1="466.8" y1="1104" x2="466.8" y2="1116" stroke-width="1"/>
<line x1="462" y1="1110.2" x2="472" y2="1110.2" stroke-width="1.85"/>
<path d="M320,951.2 H355.6 L393,1003.8" stroke-width="1.4"/>
<polygon points="393,1003.8 373.75,984.32 381.28,979.04" fill="#000" stroke="none"/>
<text class="dim" transform="translate(218.6 966.4) scale(0.86 1)" font-size="41.07" x="-2.03 28.03 54.87 82.55 95.72" y="-3 0 0 0 0">ø25.4</text>
<line x1="412" y1="947" x2="433.4" y2="947" stroke-width="1.4"/>
<line x1="498" y1="947" x2="522" y2="947" stroke-width="1.4"/>
<polygon points="379.2,947 413.2,941.5 413.2,952.5" fill="#000" stroke="none"/>
<polygon points="554.6,947 520.6,952.5 520.6,941.5" fill="#000" stroke="none"/>
<text class="dim" transform="translate(435 962.2) scale(0.8 1)" font-size="40.94" x="-7.38 17.74 45.25 58.3">18.0</text>
<line x1="257.2" y1="1055" x2="257.2" y2="1077.8" stroke-width="1.4"/>
<line x1="257.2" y1="1142.2" x2="257.2" y2="1165" stroke-width="1.4"/>
<polygon points="257.2,1022.2 262.6,1055.7 251.8,1055.7" fill="#000" stroke="none"/>
<polygon points="257.2,1198.2 251.8,1164.7 262.6,1164.7" fill="#000" stroke="none"/>
<text class="dim" transform="translate(272.8 1142) rotate(-90) scale(0.84 1)" font-size="41.21" x="-7.02 17.38 44.06 55.18">18.0</text>
<path d="M635.5,945.5 H601.9 L568.5,1001" stroke-width="1.4"/>
<polygon points="571.2,996.5 580.13,972.7 588.02,977.44" fill="#000" stroke="none"/>
<text class="dim" transform="translate(635.8 961.2) scale(0.85 1)" font-size="39.73" x="-6.38 28.88 57.67 85.63 109.51 122.03 148.36 168.77 200.02 228.12">M4X0.7(2X)</text>
<polygon points="343.6,1233.4 373.86,1251.48 368.72,1258.13" fill="#000" stroke="none"/>
<line x1="370" y1="1254.6" x2="375" y2="1258.5" stroke-width="1.4"/>
<polygon points="466.2,1282.2 431.98,1285.41 432.51,1275.43" fill="#000" stroke="none"/>
<line x1="356.6" y1="1218.8" x2="341" y2="1236" stroke-width="1"/>
<text class="dim" transform="translate(367.7 1272.85) rotate(21) scale(0.93 1)" font-size="40.27">45°</text>
<text class="ttl" transform="translate(1300 1292) scale(0.6 1)" font-size="142" x="29.08 143.02 224.52 331.37 440.88 521.19 625.08 727.73 838.36" y="0 0 -30.93 0 0 -30.93 0 0 0">K1<tspan font-size="78" textLength="108.97" lengthAdjust="spacingAndGlyphs">-</tspan>F3<tspan font-size="78" textLength="108.97" lengthAdjust="spacingAndGlyphs">-</tspan>KB1</text>
</svg>
</body></html>
